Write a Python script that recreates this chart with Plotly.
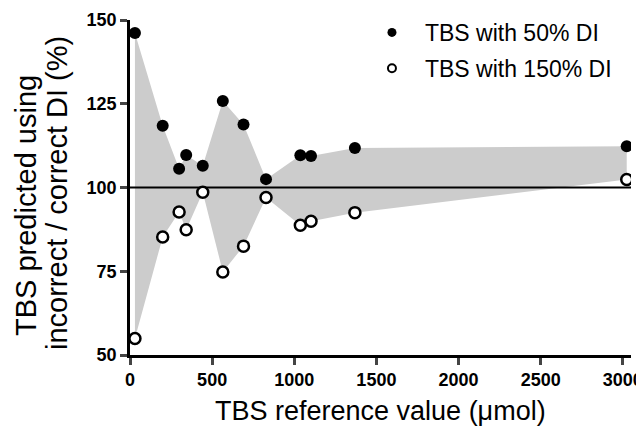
import plotly.graph_objects as go

ref_x = [30, 199, 299, 342, 443, 565, 691, 828, 1037, 1102, 1369, 3024]
di50 = [146.1, 118.4, 105.6, 109.7, 106.5, 125.8, 118.8, 102.5, 109.6, 109.4, 111.8, 112.3]
di150 = [54.9, 85.2, 92.7, 87.4, 98.6, 74.8, 82.5, 97.0, 88.7, 89.9, 92.5, 102.4]

x_ticks = [0, 500, 1000, 1500, 2000, 2500, 3000]
y_ticks = [50, 75, 100, 125, 150]

font = "Liberation Sans, Arial, sans-serif"

fig = go.Figure()
fig.add_trace(go.Scatter(x=ref_x, y=di50, mode="lines", line=dict(width=0, color="#cccccc"),
                         showlegend=False, hoverinfo="skip"))
fig.add_trace(go.Scatter(x=ref_x, y=di150, mode="lines", line=dict(width=0, color="#cccccc"),
                         fill="tonexty", fillcolor="#cccccc", showlegend=False, hoverinfo="skip"))
fig.add_trace(go.Scatter(x=[0, 3050], y=[100, 100], mode="lines", line=dict(color="black", width=2),
                         showlegend=False, hoverinfo="skip"))
fig.add_trace(go.Scatter(x=ref_x, y=di50, mode="markers", showlegend=False,
                         marker=dict(size=12, color="black", line=dict(width=0))))
fig.add_trace(go.Scatter(x=ref_x, y=di150, mode="markers", showlegend=False,
                         marker=dict(size=11, color="white", line=dict(width=2.5, color="black"))))
# legend entries
fig.add_trace(go.Scatter(x=[None], y=[None], mode="markers", name="TBS with 50% DI", legendgroup="a",
                         marker=dict(size=9, color="black", line=dict(width=0))))
fig.add_trace(go.Scatter(x=[None], y=[None], mode="markers", name="TBS with 150% DI", legendgroup="b",
                         marker=dict(size=8, color="white", line=dict(width=2, color="black"))))

# page body has an 8px margin: figure is shrunk so the plot area lands at x 130-631, y 20-355
fig.update_layout(
    width=636, height=426,
    margin=dict(l=122, r=13, t=12, b=79, autoexpand=False),
    paper_bgcolor="white", plot_bgcolor="white",
    font=dict(family=font, color="black"),
    showlegend=True,
    legend=dict(x=0.457, y=1.027, xanchor="left", yanchor="top", font=dict(size=23, family=font),
                tracegroupgap=3, bgcolor="rgba(0,0,0,0)", itemsizing="trace", itemwidth=56,
                borderwidth=0),
    xaxis=dict(range=[0, 3050], tickvals=x_ticks, ticks="outside", ticklen=7, tickwidth=2.5,
               showline=True, linewidth=2.5, linecolor="black", showgrid=False, zeroline=False,
               tickfont=dict(size=18, family=font, weight="bold")),
    yaxis=dict(range=[50, 150], tickvals=y_ticks, ticks="outside", ticklen=7, tickwidth=2.5,
               showline=True, linewidth=2.5, linecolor="black", showgrid=False, zeroline=False,
               tickfont=dict(size=18, family=font, weight="bold")),
    annotations=[
        dict(text="TBS reference value (μmol)", xref="paper", yref="paper", x=0.5, y=(355 - 411) / 335,
             xanchor="center", yanchor="middle", showarrow=False, font=dict(size=27, family=font)),
        dict(text="TBS predicted using", xref="paper", yref="paper", x=(26 - 130) / 501,
             y=(355 - 206) / 335, xanchor="center", yanchor="middle", textangle=-90,
             showarrow=False, font=dict(size=29, family=font)),
        dict(text="incorrect / correct DI (%)", xref="paper", yref="paper", x=(57 - 130) / 501,
             y=(355 - 193) / 335, xanchor="center", yanchor="middle", textangle=-90,
             showarrow=False, font=dict(size=29, family=font)),
    ],
)
fig.write_html("out.html")
